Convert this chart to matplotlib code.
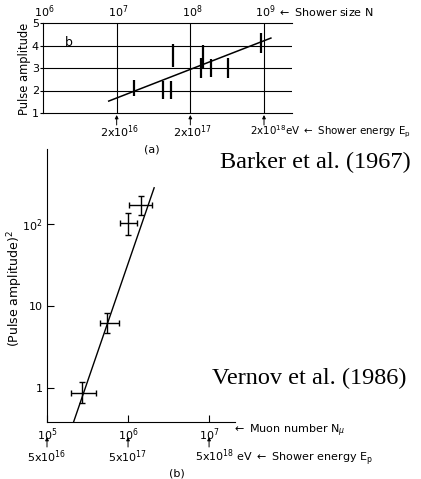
import matplotlib
matplotlib.use("Agg")
import matplotlib.pyplot as plt
import matplotlib.transforms as mtransforms
from matplotlib.ticker import NullLocator, FixedLocator

plt.rcParams['font.family'] = ['DejaVu Sans']
plt.rcParams['mathtext.fontset'] = 'dejavusans'

# ---- panel (a): pulse amplitude vs shower size (Barker et al. 1967) ----
a_size = [1.7e7, 4.2e7, 5.4e7, 5.9e7, 1.4e8, 1.5e8, 1.9e8, 3.2e8, 9.1e8]
a_amp_lo = [1.74, 1.62, 1.62, 3.04, 2.55, 3.00, 2.60, 2.55, 3.66]
a_amp_hi = [2.46, 2.42, 2.42, 4.06, 3.44, 4.01, 3.39, 3.44, 4.54]
a_fit_size = [7.8e6, 1.24e9]
a_fit_amp = [1.53, 4.33]
a_size_ticks = [1e6, 1e7, 1e8, 1e9]
a_size_labels = ['10$^6$', '10$^7$', '10$^8$', '10$^9$']
a_energy_at = [1e7, 1e8, 1e9]
a_energy_labels = ['2x10$^{16}$', '2x10$^{17}$', '2x10$^{18}$eV $\\leftarrow$ Shower energy E$_\\mathregular{p}$']
a_amp_ticks = [1, 2, 3, 4, 5]

# ---- panel (b): (pulse amplitude)^2 vs muon number (Vernov et al. 1986) ----
b_muon = [2.7e5, 5.5e5, 1.0e6, 1.45e6]
b_muon_lo = [2.0e5, 4.5e5, 7.9e5, 1.02e6]
b_muon_hi = [3.97e5, 7.7e5, 1.29e6, 1.99e6]
b_amp2 = [0.88, 6.25, 104, 172]
b_amp2_lo = [0.66, 4.7, 74, 130]
b_amp2_hi = [1.2, 8.3, 137, 221]
b_fit_muon = [2.13e5, 2.1e6]
b_fit_amp2 = [0.39, 277]
b_muon_ticks = [1e5, 1e6, 1e7]
b_muon_labels = ['10$^5$', '10$^6$', '10$^7$']
b_energy_labels = ['5x10$^{16}$', '5x10$^{17}$', '5x10$^{18}$ eV $\\leftarrow$ Shower energy E$_\\mathregular{p}$']
b_amp2_ticks = [1, 10, 100]
b_amp2_labels = ['1', '10', '10$^2$']

W, H = 421, 479
fig = plt.figure(figsize=(W / 100, H / 100), dpi=100)


def fy(py):
    return 1 - py / H


def fx(px):
    return px / W


TXT = 8
LW_THIN = 0.8

# ===================== panel (a) =====================
axA = fig.add_axes([fx(43), fy(113), (292 - 43) / W, 90 / H])
axA.set_xscale('log')
axA.set_xlim(1e6, 10 ** 9.38)
axA.set_ylim(1, 5)
axA.spines['right'].set_visible(False)
for s in ('left', 'bottom', 'top'):
    axA.spines[s].set_linewidth(LW_THIN)
axA.xaxis.set_major_locator(NullLocator())
axA.xaxis.set_minor_locator(NullLocator())
axA.yaxis.set_major_locator(FixedLocator(a_amp_ticks))
axA.tick_params(axis='y', length=2, width=LW_THIN, pad=1, labelsize=TXT)
for v in a_amp_ticks[1:-1]:
    axA.axhline(v, color='black', lw=LW_THIN)
for v in a_energy_at:
    axA.axvline(v, color='black', lw=LW_THIN)

axA.plot(a_fit_size, a_fit_amp, color='black', lw=1.1)
axA.vlines(a_size, a_amp_lo, a_amp_hi, color='black', lw=1.6)
axA.text(0.105, 0.78, 'b', transform=axA.transAxes, fontsize=9, ha='center', va='center')

trA = mtransforms.blended_transform_factory(axA.transData, fig.transFigure)
for v, lab in zip(a_size_ticks, a_size_labels):
    axA.text(v * 1.05, fy(12), lab, transform=trA, ha='center', va='center', fontsize=TXT)
fig.text(fx(277), fy(12), '$\\leftarrow$ Shower size N', ha='left', va='center', fontsize=TXT)

for i, v in enumerate(a_energy_at):
    axA.annotate('', xy=(v, fy(115)), xytext=(v, fy(125)), xycoords=trA, textcoords=trA,
                 arrowprops=dict(arrowstyle='-|>', lw=0.7, color='black',
                                 mutation_scale=5, shrinkA=0, shrinkB=0))
    if i < 2:
        axA.text(v * 1.08, fy(132), a_energy_labels[i], transform=trA,
                 ha='center', va='center', fontsize=TXT)
    else:
        fig.text(fx(250), fy(132), a_energy_labels[i],
                 ha='left', va='center', fontsize=7.4)
fig.text(fx(152), fy(150), '(a)', ha='center', va='center', fontsize=TXT)
fig.text(fx(25), fy(69), 'Pulse amplitude', rotation=90, ha='center', va='center', fontsize=8.3)

fig.text(fx(220), fy(162), 'Barker et al. (1967)', family='Liberation Serif',
         fontsize=17.5, ha='left', va='center')

# ===================== panel (b) =====================
axB = fig.add_axes([fx(47), fy(422), (235 - 47) / W, (422 - 149) / H])
axB.set_xscale('log')
axB.set_yscale('log')
axB.set_xlim(1e5, 10 ** 7.32)
axB.set_ylim(10 ** -0.41, 10 ** 2.915)
axB.spines['right'].set_visible(False)
axB.spines['top'].set_visible(False)
for s in ('left', 'bottom'):
    axB.spines[s].set_linewidth(LW_THIN)
axB.xaxis.set_major_locator(FixedLocator(b_muon_ticks))
axB.xaxis.set_minor_locator(NullLocator())
axB.yaxis.set_major_locator(FixedLocator(b_amp2_ticks))
axB.yaxis.set_minor_locator(NullLocator())
axB.set_xticklabels(b_muon_labels)
axB.set_yticklabels(b_amp2_labels)
axB.tick_params(axis='both', direction='in', length=5, width=LW_THIN, labelsize=TXT)
axB.tick_params(axis='x', pad=3)
axB.tick_params(axis='y', pad=3)

axB.plot(b_fit_muon, b_fit_amp2, color='black', lw=1.0)
xerr = [[c - lo for c, lo in zip(b_muon, b_muon_lo)], [hi - c for c, hi in zip(b_muon, b_muon_hi)]]
yerr = [[c - lo for c, lo in zip(b_amp2, b_amp2_lo)], [hi - c for c, hi in zip(b_amp2, b_amp2_hi)]]
axB.errorbar(b_muon, b_amp2, xerr=xerr, yerr=yerr, fmt='none', ecolor='black',
             elinewidth=1.0, capsize=2, capthick=1.0)

trB = mtransforms.blended_transform_factory(axB.transData, fig.transFigure)
fig.text(fx(232), fy(431), '$\\leftarrow$ Muon number N$_\\mu$', ha='left', va='center', fontsize=TXT)
for i, v in enumerate(b_muon_ticks):
    axB.annotate('', xy=(v, fy(437)), xytext=(v, fy(447)), xycoords=trB, textcoords=trB,
                 arrowprops=dict(arrowstyle='-|>', lw=0.7, color='black',
                                 mutation_scale=5, shrinkA=0, shrinkB=0))
    if i < 2:
        axB.text(v, fy(457), b_energy_labels[i], transform=trB,
                 ha='center', va='center', fontsize=TXT)
    else:
        fig.text(fx(195), fy(457), b_energy_labels[i],
                 ha='left', va='center', fontsize=TXT)
fig.text(fx(177), fy(473), '(b)', ha='center', va='center', fontsize=TXT)
fig.text(fx(15), fy(289), '(Pulse amplitude)$^2$', rotation=90, ha='center', va='center', fontsize=9)

fig.text(fx(212), fy(378), 'Vernov et al. (1986)', family='Liberation Serif',
         fontsize=17.5, ha='left', va='center')

fig.savefig('out.png', dpi=100)
